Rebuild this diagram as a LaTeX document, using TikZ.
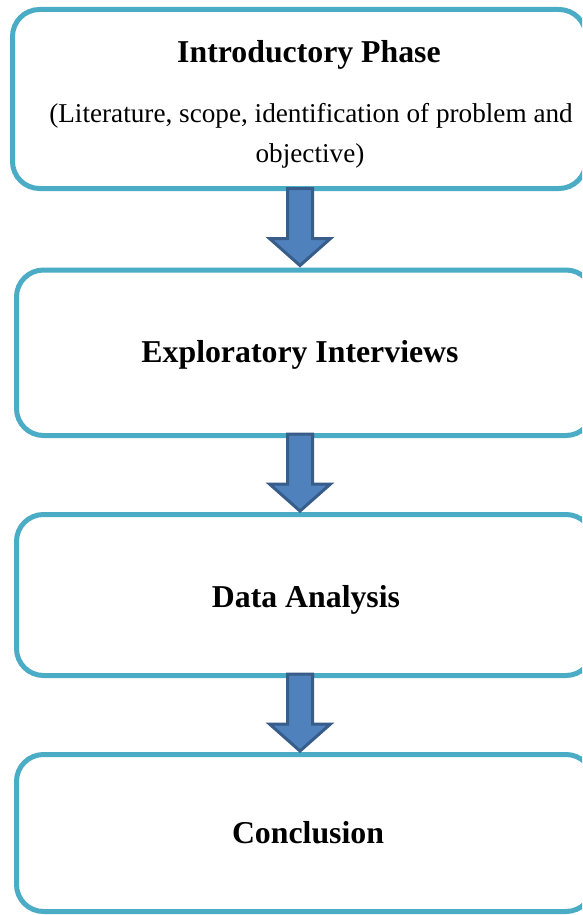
\documentclass[tikz,border=0pt]{standalone}
\usepackage{fontspec}
\setmainfont{Liberation Serif}
\definecolor{boxline}{HTML}{4BACC6}
\definecolor{arrowfill}{HTML}{4F81BD}
\definecolor{arrowline}{HTML}{385D8A}
\tikzset{
  phasebox/.style={draw=boxline, line width=5pt, rounded corners=27pt, fill=white},
  blockarrow/.style={draw=arrowline, fill=arrowfill, line width=3pt, line join=miter},
  headtext/.style={font=\fontsize{31.8}{38}\selectfont\bfseries, anchor=base, inner sep=0pt},
  subtext/.style={font=\fontsize{27.2}{33}\selectfont, anchor=base, inner sep=0pt}
}
\newcommand\downblock[1]{%
  \draw[blockarrow, shift={(#1)}] (-12.5,0) -- (12.5,0) -- (12.5,50) -- (30.5,50) -- (0,77) -- (-30.5,50) -- (-12.5,50) -- cycle;}
\begin{document}
\begin{tikzpicture}[x=1pt,y=-1pt]
\useasboundingbox (0,0) rectangle (582,915);
\fill[white] (0,0) rectangle (582,915);
\begin{scope}
\clip (0,0) rectangle (582,915);
\draw[phasebox] (12.5,9.5) rectangle (586,188.5);
\draw[phasebox] (16.5,270) rectangle (593,435.5);
\draw[phasebox] (16.5,514.5) rectangle (593,675.5);
\draw[phasebox] (16.5,754.5) rectangle (593,911.5);
\end{scope}
\coordinate (a1) at (300,188.5);
\coordinate (a2) at (300,434);
\coordinate (a3) at (300,674);
\downblock{a1}
\downblock{a2}
\downblock{a3}
\node[headtext] (t1) at (309,63) {Introductory Phase};
\node[subtext] (s1) at (311,123) {(Literature, scope, identification of problem and};
\node[subtext] (s2) at (310,162) {objective)};
\node[headtext] (t2) at (300,362) {Exploratory Interviews};
\node[headtext] (t3) at (306,607) {Data Analysis};
\node[headtext] (t4) at (308,843) {Conclusion};
\end{tikzpicture}
\end{document}
